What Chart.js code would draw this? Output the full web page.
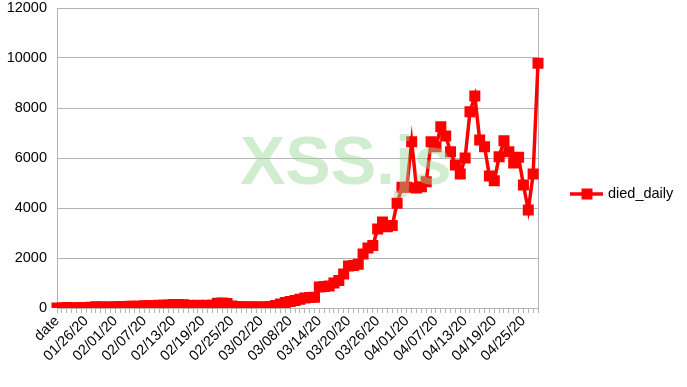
<!DOCTYPE html>
<html>
<head>
<meta charset="utf-8">
<script src="https://cdn.jsdelivr.net/npm/chart.js@4"></script>
<style>
  html,body{margin:0;padding:0;background:#fff}
  #wrap{width:687px;height:387px}
</style>
</head>
<body>
<div id="wrap"><canvas id="chart" width="687" height="387"></canvas></div>
<script>
// categories: header row "date" then daily dates
const dates = ['date',
  '01/21/20','01/22/20','01/23/20','01/24/20','01/25/20','01/26/20','01/27/20','01/28/20','01/29/20','01/30/20','01/31/20',
  '02/01/20','02/02/20','02/03/20','02/04/20','02/05/20','02/06/20','02/07/20','02/08/20','02/09/20','02/10/20',
  '02/11/20','02/12/20','02/13/20','02/14/20','02/15/20','02/16/20','02/17/20','02/18/20','02/19/20','02/20/20',
  '02/21/20','02/22/20','02/23/20','02/24/20','02/25/20','02/26/20','02/27/20','02/28/20','02/29/20',
  '03/01/20','03/02/20','03/03/20','03/04/20','03/05/20','03/06/20','03/07/20','03/08/20','03/09/20','03/10/20',
  '03/11/20','03/12/20','03/13/20','03/14/20','03/15/20','03/16/20','03/17/20','03/18/20','03/19/20','03/20/20',
  '03/21/20','03/22/20','03/23/20','03/24/20','03/25/20','03/26/20','03/27/20','03/28/20','03/29/20','03/30/20','03/31/20',
  '04/01/20','04/02/20','04/03/20','04/04/20','04/05/20','04/06/20','04/07/20','04/08/20','04/09/20','04/10/20',
  '04/11/20','04/12/20','04/13/20','04/14/20','04/15/20','04/16/20','04/17/20','04/18/20','04/19/20','04/20/20',
  '04/21/20','04/22/20','04/23/20','04/24/20','04/25/20','04/26/20','04/27/20','04/28/20'
]
const diedDaily = [0,
  0,17,1,8,16,14,26,49,40,38,42,
  46,60,64,66,72,70,85,87,100,107,
  110,120,140,135,125,110,98,110,100,105,
  110,190,200,180,79,62,50,40,45,
  35,40,50,60,100,160,220,260,300,350,
  400,420,430,840,860,880,1000,1100,1360,1680,
  1700,1750,2160,2400,2500,3160,3440,3250,3300,4190,4830,
  4830,6650,4800,4850,5050,6650,6450,7250,6880,6250,
  5720,5360,6000,7850,8480,6720,6450,5280,5090,6050,
  6690,6250,5800,6030,4920,3920,5360,9790
]
const yTicks = [0,2000,4000,6000,8000,10000,12000]
const seriesName = 'died_daily'
const watermarkText = 'XSS.js'

const RED = '#ff0000'
const GRID = '#b3b3b3'
const FONT = {family:'"Liberation Sans", Arial, sans-serif', size:14.5, lineHeight:1.1}

// right wall border + legend + watermark
const extras = {
  id:'extras',
  beforeDatasetsDraw(chart){
    const {ctx, chartArea:a} = chart
    ctx.save()
    ctx.strokeStyle = GRID; ctx.lineWidth = 1
    ctx.beginPath(); ctx.moveTo(a.right+0.5, a.top); ctx.lineTo(a.right+0.5, a.bottom); ctx.stroke()
    ctx.restore()
  },
  afterDraw(chart){
    const ctx = chart.ctx
    ctx.save()
    // legend
    const ly = 194
    ctx.strokeStyle = RED; ctx.lineWidth = 3.5
    ctx.beginPath(); ctx.moveTo(570, ly); ctx.lineTo(603, ly); ctx.stroke()
    ctx.fillStyle = RED; ctx.fillRect(581.5, ly-5.5, 11, 11)
    ctx.fillStyle = '#000'
    ctx.font = FONT.size + 'px ' + FONT.family
    ctx.textBaseline = 'middle'; ctx.textAlign = 'left'
    ctx.fillText(seriesName, 608, ly)
    // watermark
    ctx.font = 'bold 68px "Liberation Sans", Arial, sans-serif'
    ctx.fillStyle = 'rgba(150,215,150,0.45)'
    ctx.textBaseline = 'alphabetic'
    ctx.fillText(watermarkText, 240, 184)
    ctx.restore()
  }
}

new Chart(document.getElementById('chart'), {
  type:'line',
  data:{
    labels:dates,
    datasets:[{
      label:seriesName, data:diedDaily,
      borderColor:RED, backgroundColor:RED, borderWidth:3.5,
      pointStyle:'rect', pointRadius:7.8, pointBorderWidth:0,
      pointBackgroundColor:RED, tension:0
    }]
  },
  options:{
    responsive:false, animation:false,
    layout:{padding:{top:8, right:149, left:0, bottom:0}},
    plugins:{legend:{display:false}, tooltip:{enabled:false}},
    scales:{
      x:{
        offset:false,
        grid:{drawOnChartArea:false, drawTicks:true, tickLength:5, color:GRID},
        border:{color:GRID},
        ticks:{autoSkip:false, minRotation:45, maxRotation:45, color:'#000', font:FONT, padding:0,
          callback:(v,i)=> i%6===0 ? dates[i] : ''},
        afterFit(s){ s.height = 79; s.paddingLeft = 0; s.paddingRight = 0 }
      },
      y:{
        min:0, max:12000,
        afterBuildTicks(s){ s.ticks = yTicks.map(v=>({value:v})) },
        grid:{color:GRID, drawTicks:false},
        border:{color:GRID},
        ticks:{color:'#000', font:FONT, padding:10, callback:v=>String(v)},
        afterFit(s){ s.width = 57; s.paddingTop = 0; s.paddingBottom = 0 }
      }
    }
  },
  plugins:[extras]
})
</script>
</body>
</html>
